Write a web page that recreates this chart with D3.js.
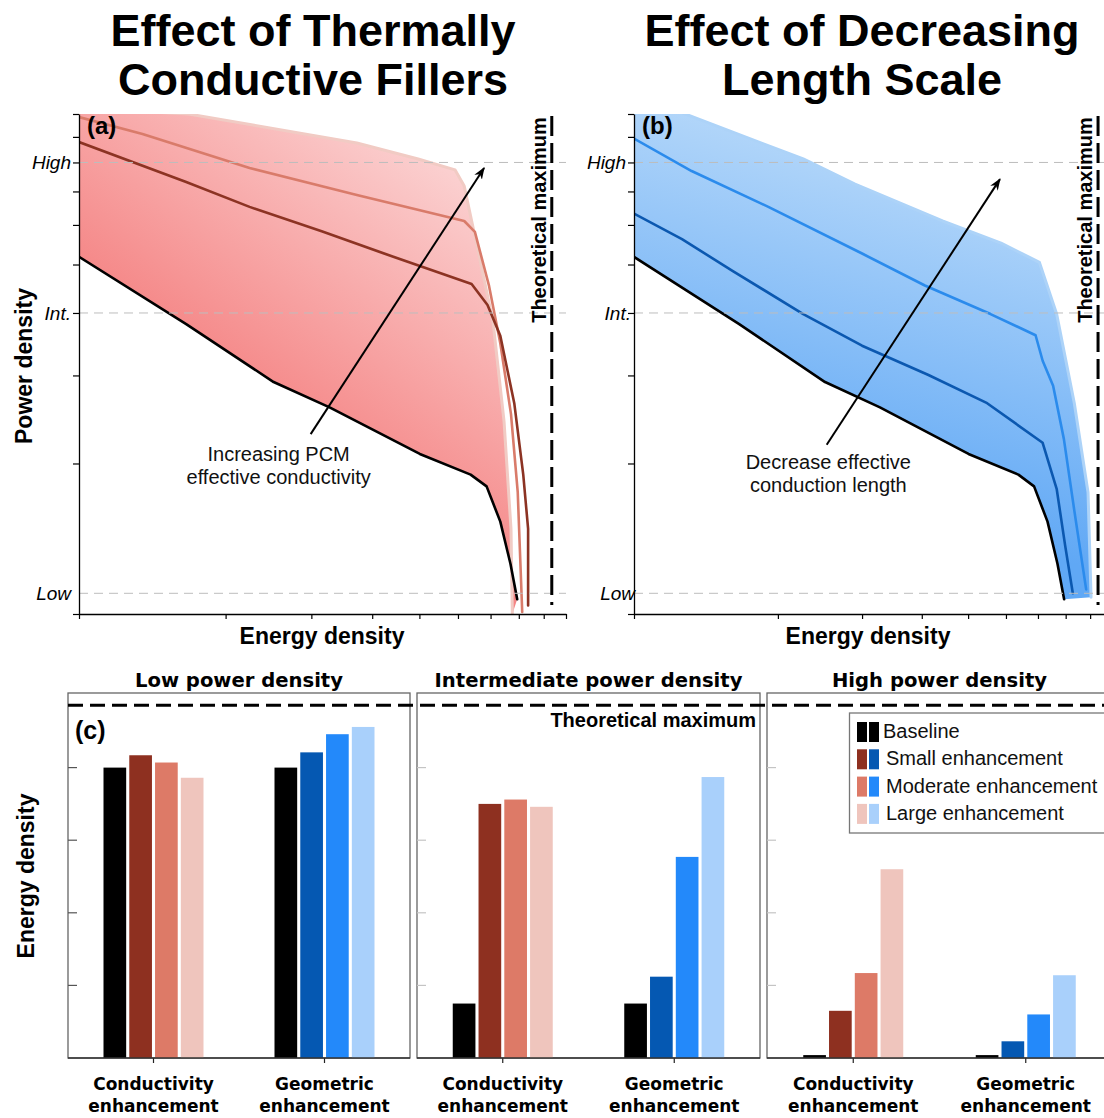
<!DOCTYPE html>
<html>
<head>
<meta charset="utf-8">
<script src="https://cdn.jsdelivr.net/npm/d3@7"></script>
<style>
  body { margin: 0; background: #fff; }
  svg { display: block; }
</style>
</head>
<body>
<svg id="fig" width="1104" height="1118"></svg>
<script>
// ---------------- Ragone-style curves (log energy density vs log power density) ----------------
const energyTicks = [1, 2, 3, 4, 5, 6, 7, 8, 9, 10];
const powerTicks = [1, 2, 3, 4, 5, 6, 7, 8, 9, 10];
const powerLevels = ["High", "Int.", "Low"];
const powerLevelValues = [8, 4, 1.1];
const theoreticalMaxEnergy = 9.35;

// Baseline PCM (shared by both panels)
const baselineEnergy = [1, 1.66, 2.51, 3.27, 5.01, 6.37, 6.87, 7.33, 7.69, 7.94];
const baselinePower  = [5.18, 3.80, 2.91, 2.59, 2.09, 1.90, 1.80, 1.53, 1.26, 1.07];

// Thermally conductive fillers
const condSmallEnergy = [1, 1.66, 2.24, 3.15, 4.42, 6.40, 6.90, 7.33, 7.83, 8.17, 8.36, 8.36];
const condSmallPower  = [8.79, 7.31, 6.52, 5.83, 5.18, 4.57, 4.15, 3.60, 2.64, 1.90, 1.48, 1.04];
const condModerateEnergy = [1, 1.35, 2.24, 3.72, 6.18, 6.50, 6.95, 7.33, 7.71, 7.96, 8.13];
const condModeratePower  = [9.86, 9.12, 7.80, 6.89, 6.11, 5.81, 4.53, 3.48, 2.51, 1.75, 1.01];
const condLargeEnergy = [1, 1.68, 3.72, 4.97, 5.92, 6.18, 6.59, 7.08, 7.46, 7.71, 7.76];
const condLargePower  = [10.28, 10.0, 8.75, 8.13, 7.73, 7.18, 5.35, 3.85, 2.43, 1.48, 1.0];

// Decreasing conduction length scale
const geoSmallEnergy = [1, 1.26, 1.61, 2.26, 3.00, 4.12, 5.48, 7.16, 7.66, 7.98, 8.28];
const geoSmallPower  = [6.32, 5.62, 4.85, 3.98, 3.44, 3.01, 2.64, 2.20, 1.78, 1.37, 1.10];
const geoModerateEnergy = [1, 1.32, 1.91, 3.00, 4.06, 5.57, 6.92, 7.16, 7.53, 7.93, 8.34, 8.83];
const geoModeratePower  = [8.93, 7.69, 6.52, 5.26, 4.54, 3.98, 3.61, 3.21, 2.86, 2.24, 1.61, 1.12];
const geoLargeEnergy = [1, 1.28, 2.26, 2.90, 4.42, 5.86, 7.05, 7.66, 8.34, 8.91, 9.04];
const geoLargePower  = [10.94, 10.0, 8.13, 7.24, 6.11, 5.52, 5.05, 3.98, 2.64, 1.75, 1.08];

// ---------------- Bar charts: energy density at fixed power density ----------------
const powerRegimes = ["Low power density", "Intermediate power density", "High power density"];
const enhancementTypes = ["Conductivity enhancement", "Geometric enhancement"];
const enhancementLevels = ["Baseline", "Small enhancement", "Moderate enhancement", "Large enhancement"];
const energyBarTicks = [1, 2, 3, 4];
const theoreticalMaxBar = 4.86;

const lowConductivity = [4.0, 4.17, 4.07, 3.86];
const lowGeometric    = [4.0, 4.21, 4.46, 4.56];
const intConductivity = [0.75, 3.5, 3.56, 3.46];
const intGeometric    = [0.75, 1.12, 2.77, 3.87];
const highConductivity = [0.04, 0.65, 1.17, 2.6];
const highGeometric    = [0.04, 0.23, 0.6, 1.14];

const conductivityColors = ["#000000", "#8e3020", "#dd7a67", "#efc5bd"];
const geometricColors    = ["#000000", "#0558b2", "#2389fa", "#a9d0fb"];

// -----------------------------------------------------------------------------------
const svg = d3.select("#fig");
svg.append("rect").attr("width", 1104).attr("height", 1118).attr("fill", "#fff");
const defs = svg.append("defs");

defs.append("marker")
  .attr("id", "arrowHead")
  .attr("viewBox", "0 0 12 10")
  .attr("refX", 11).attr("refY", 5)
  .attr("markerWidth", 12).attr("markerHeight", 10)
  .attr("markerUnits", "userSpaceOnUse")
  .attr("orient", "auto")
  .append("path")
  .attr("d", "M0,0.5 L12,5 L0,9.5 L3.5,5 Z")
  .attr("fill", "#000");

const zip = (xs, ys) => xs.map((v, i) => [v, ys[i]]);

const SANS = "'Liberation Sans', Arial, sans-serif";
const WIDE = "'DejaVu Sans', Verdana, sans-serif";

// Two-line headings above the curve panels
function heading(cx, lines) {
  const t = svg.append("text")
    .attr("text-anchor", "middle")
    .attr("font-family", SANS).attr("font-weight", "bold")
    .attr("font-size", 45).attr("fill", "#000");
  lines.forEach((l, i) => t.append("tspan").attr("x", cx).attr("y", 46 + i * 49).text(l));
}
heading(313, ["Effect of Thermally", "Conductive Fillers"]);
heading(862, ["Effect of Decreasing", "Length Scale"]);

function curvePanel(cfg) {
  const x = d3.scaleLog().domain([1, 10]).range([cfg.x0, cfg.x1]);
  const y = d3.scaleLog().domain([1, 10]).range([614, 114]);
  const g = svg.append("g");

  const clipId = "clip-" + cfg.id;
  defs.append("clipPath").attr("id", clipId)
    .append("rect").attr("x", cfg.x0).attr("y", 114)
    .attr("width", cfg.x1 - cfg.x0).attr("height", 500);

  const grad = defs.append("linearGradient").attr("id", "grad-" + cfg.id)
    .attr("gradientUnits", "userSpaceOnUse")
    .attr("x1", cfg.grad[0]).attr("y1", cfg.grad[1])
    .attr("x2", cfg.grad[2]).attr("y2", cfg.grad[3]);
  grad.append("stop").attr("offset", 0).attr("stop-color", cfg.gradColors[0]);
  grad.append("stop").attr("offset", 1).attr("stop-color", cfg.gradColors[1]);

  const line = d3.line().x(d => x(d[0])).y(d => y(d[1]));
  const plot = g.append("g").attr("clip-path", `url(#${clipId})`);

  // shaded envelope between the baseline and the largest enhancement
  const upper = line(cfg.large);
  const lower = line(cfg.base.slice().reverse()).replace(/^M/, "L");
  plot.append("path")
    .attr("d", upper + lower + "Z")
    .attr("fill", `url(#grad-${cfg.id})`);

  // dashed reference power levels
  powerLevelValues.forEach(v => {
    g.append("line")
      .attr("x1", cfg.x0).attr("x2", cfg.gridEnd)
      .attr("y1", y(v)).attr("y2", y(v))
      .attr("stroke", "#bdbdbd").attr("stroke-width", 1)
      .attr("stroke-dasharray", "9,6");
  });

  const strokeLine = (pts, color, w) => plot.append("path")
    .attr("d", line(pts)).attr("fill", "none")
    .attr("stroke", color).attr("stroke-width", w)
    .attr("stroke-linejoin", "round").attr("stroke-linecap", "round");
  strokeLine(cfg.large, cfg.colors[2], 3);
  strokeLine(cfg.moderate, cfg.colors[1], 2.6);
  strokeLine(cfg.small, cfg.colors[0], 2.6);
  strokeLine(cfg.base, "#000", 2.6);

  // axes
  g.append("g").attr("transform", "translate(0,614)")
    .call(d3.axisBottom(x).tickValues(energyTicks).tickFormat("").tickSize(5).tickSizeOuter(0))
    .call(a => a.select(".domain").attr("stroke", "#000").attr("stroke-width", 1.3))
    .call(a => a.selectAll(".tick line").attr("stroke", "#000").attr("stroke-width", 1.2));
  g.append("g").attr("transform", `translate(${cfg.x0},0)`)
    .call(d3.axisLeft(y).tickValues(powerTicks).tickFormat("").tickSize(6).tickSizeOuter(0))
    .call(a => a.select(".domain").attr("stroke", "#000").attr("stroke-width", 1.3))
    .call(a => a.selectAll(".tick line").attr("stroke", "#000").attr("stroke-width", 1.2));

  // power level labels
  powerLevels.forEach((lab, i) => {
    g.append("text")
      .attr("x", cfg.x0 + cfg.labelDx[i]).attr("y", y(powerLevelValues[i]) + 7)
      .attr("text-anchor", "end")
      .attr("font-family", SANS).attr("font-style", "italic").attr("font-size", 19)
      .text(lab);
  });

  // theoretical maximum
  const xm = x(theoreticalMaxEnergy);
  g.append("line")
    .attr("x1", xm).attr("x2", xm).attr("y1", 116).attr("y2", 605)
    .attr("stroke", "#000").attr("stroke-width", 3)
    .attr("stroke-dasharray", "20,7");
  g.append("text")
    .attr("transform", `translate(${xm - 6},220) rotate(-90)`)
    .attr("text-anchor", "middle")
    .attr("font-family", SANS).attr("font-weight", "bold").attr("font-size", 20)
    .text("Theoretical maximum");

  // trend arrow + annotation
  g.append("line")
    .attr("x1", x(cfg.arrow[0])).attr("y1", y(cfg.arrow[1]))
    .attr("x2", x(cfg.arrow[2])).attr("y2", y(cfg.arrow[3]))
    .attr("stroke", "#000").attr("stroke-width", 2)
    .attr("marker-end", "url(#arrowHead)");
  const note = g.append("text")
    .attr("text-anchor", "middle")
    .attr("font-family", SANS).attr("font-size", 20).attr("fill", "#111");
  cfg.note.forEach((l, i) => note.append("tspan")
    .attr("x", x(cfg.notePos[0])).attr("y", y(cfg.notePos[1]) + i * 23).text(l));

  // panel tag
  g.append("text").attr("x", cfg.x0 + 8).attr("y", 134)
    .attr("font-family", SANS).attr("font-weight", "bold").attr("font-size", 24)
    .text(cfg.tag);

  // axis title
  g.append("text").attr("x", cfg.titleX).attr("y", 644)
    .attr("text-anchor", "middle")
    .attr("font-family", SANS).attr("font-weight", "bold").attr("font-size", 23)
    .text("Energy density");
}

curvePanel({
  id: "a", tag: "(a)", x0: 79, x1: 566, gridEnd: 566, titleX: 322,
  base: zip(baselineEnergy, baselinePower),
  small: zip(condSmallEnergy, condSmallPower),
  moderate: zip(condModerateEnergy, condModeratePower),
  large: zip(condLargeEnergy, condLargePower),
  colors: ["#8c3323", "#d97b6a", "#f1cbc4"],
  grad: [470, 120, 200, 480], gradColors: ["#fcdcdc", "#f37070"],
  labelDx: [-8, -8, -8],
  arrow: [2.99, 2.29, 6.79, 7.80],
  note: ["Increasing PCM", "effective conductivity"], notePos: [2.57, 2.02]
});

curvePanel({
  id: "b", tag: "(b)", x0: 634, x1: 1112, gridEnd: 1104, titleX: 868,
  base: zip(baselineEnergy, baselinePower),
  small: zip(geoSmallEnergy, geoSmallPower),
  moderate: zip(geoModerateEnergy, geoModeratePower),
  large: zip(geoLargeEnergy, geoLargePower),
  colors: ["#0b58b0", "#2b8bec", "#add3f8"],
  grad: [900, 120, 800, 490], gradColors: ["#bddcfa", "#60a8f5"],
  labelDx: [-8, -3, 1],
  arrow: [2.53, 2.18, 5.83, 7.41],
  note: ["Decrease effective", "conduction length"], notePos: [2.55, 1.95]
});

// y-axis title for the curve panels
svg.append("text")
  .attr("transform", "translate(32,366) rotate(-90)")
  .attr("text-anchor", "middle")
  .attr("font-family", SANS).attr("font-weight", "bold").attr("font-size", 23)
  .text("Power density");

// ---------------- bar panels ----------------
const barPanels = [
  { x0: 68,  x1: 410,  data: [lowConductivity, lowGeometric],   tickColor: "#555" },
  { x0: 417, x1: 760,  data: [intConductivity, intGeometric],   tickColor: "#c4c4c4" },
  { x0: 767, x1: 1112, data: [highConductivity, highGeometric], tickColor: "#c4c4c4" }
];
const yBar = d3.scaleLinear().domain([0, 5]).range([1058, 695]);
const boxTop = 693;

barPanels.forEach((p, pi) => {
  const g = svg.append("g");
  const xg = d3.scalePoint().domain(enhancementTypes).range([p.x0, p.x1]).padding(0.5);
  const xs = d3.scaleBand().domain(enhancementLevels).range([-50, 50]).paddingInner(0.12);

  // frame
  g.append("rect")
    .attr("x", p.x0).attr("y", boxTop)
    .attr("width", p.x1 - p.x0).attr("height", yBar(0) - boxTop)
    .attr("fill", "none").attr("stroke", "#666").attr("stroke-width", 1.3);

  // inward y ticks
  energyBarTicks.forEach(v => {
    g.append("line").attr("x1", p.x0).attr("x2", p.x0 + 9)
      .attr("y1", yBar(v)).attr("y2", yBar(v))
      .attr("stroke", p.tickColor).attr("stroke-width", 1.2);
  });

  // bars
  enhancementTypes.forEach((cat, ci) => {
    const colors = ci === 0 ? conductivityColors : geometricColors;
    g.selectAll(null).data(p.data[ci]).enter().append("rect")
      .attr("x", (d, i) => xg(cat) + xs(enhancementLevels[i]))
      .attr("y", d => yBar(d))
      .attr("width", xs.bandwidth())
      .attr("height", d => yBar(0) - yBar(d))
      .attr("fill", (d, i) => colors[i]);

    g.append("line").attr("x1", xg(cat)).attr("x2", xg(cat))
      .attr("y1", yBar(0)).attr("y2", yBar(0) + 5)
      .attr("stroke", "#222").attr("stroke-width", 1.2);

    const words = cat.split(" ");
    const lab = g.append("text").attr("text-anchor", "middle")
      .attr("font-family", WIDE).attr("font-weight", "bold").attr("font-size", 17);
    words.forEach((w, wi) => lab.append("tspan")
      .attr("x", xg(cat)).attr("y", 1090 + wi * 22).text(w));
  });

  // bottom axis line on top of bars
  g.append("line").attr("x1", p.x0).attr("x2", p.x1)
    .attr("y1", yBar(0)).attr("y2", yBar(0))
    .attr("stroke", "#333").attr("stroke-width", 1.3);

  g.append("text")
    .attr("x", (p.x0 + Math.min(p.x1, 1104)) / 2 + (pi === 2 ? 4 : 0)).attr("y", 687)
    .attr("text-anchor", "middle")
    .attr("font-family", WIDE).attr("font-weight", "bold").attr("font-size", 19.6)
    .text(powerRegimes[pi]);
});

// theoretical maximum across all bar panels
svg.append("line")
  .attr("x1", 68).attr("x2", 1104)
  .attr("y1", yBar(theoreticalMaxBar)).attr("y2", yBar(theoreticalMaxBar))
  .attr("stroke", "#000").attr("stroke-width", 3)
  .attr("stroke-dasharray", "15,7");
svg.append("text")
  .attr("x", 756).attr("y", 727).attr("text-anchor", "end")
  .attr("font-family", SANS).attr("font-weight", "bold").attr("font-size", 20)
  .text("Theoretical maximum");

svg.append("text").attr("x", 75).attr("y", 739)
  .attr("font-family", SANS).attr("font-weight", "bold").attr("font-size", 25)
  .text("(c)");

svg.append("text")
  .attr("transform", "translate(34,876) rotate(-90)")
  .attr("text-anchor", "middle")
  .attr("font-family", SANS).attr("font-weight", "bold").attr("font-size", 23)
  .text("Energy density");

// legend
const legend = svg.append("g");
legend.append("rect").attr("x", 849.5).attr("y", 713).attr("width", 270).attr("height", 120)
  .attr("fill", "#fff").attr("stroke", "#777").attr("stroke-width", 1.3);
enhancementLevels.forEach((lab, i) => {
  const yy = 722 + i * 27.3;
  legend.append("rect").attr("x", 857).attr("y", yy).attr("width", 10).attr("height", 20)
    .attr("fill", conductivityColors[i]);
  legend.append("rect").attr("x", 869).attr("y", yy).attr("width", 10).attr("height", 20)
    .attr("fill", geometricColors[i]);
  legend.append("text").attr("x", i === 0 ? 883 : 886).attr("y", yy + 16)
    .attr("font-family", SANS).attr("font-size", 20).attr("fill", "#111")
    .text(lab);
});
</script>
</body>
</html>
